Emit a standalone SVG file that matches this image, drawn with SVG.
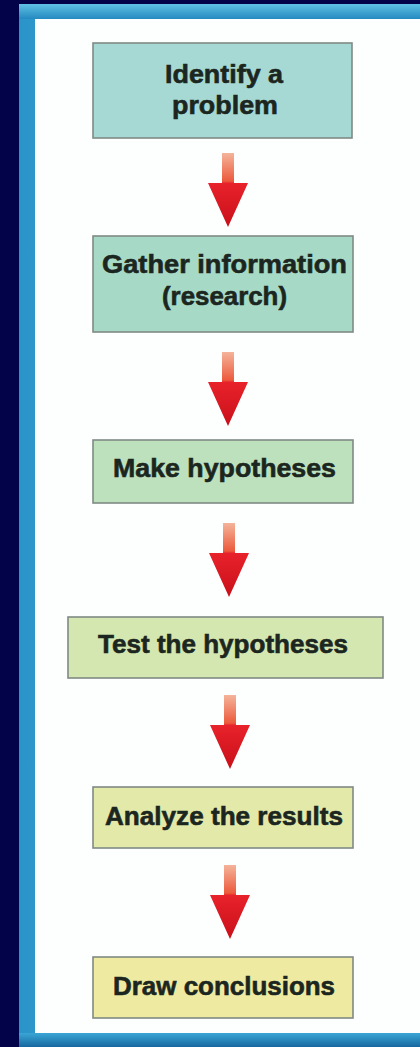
<svg xmlns="http://www.w3.org/2000/svg" width="420" height="1047" viewBox="0 0 420 1047">
<defs>
<linearGradient id="gTop" x1="0" y1="0" x2="0" y2="1"><stop offset="0" stop-color="#5fc2e4"/><stop offset="1" stop-color="#2489c0"/></linearGradient>
<linearGradient id="gLeft" x1="0" y1="0" x2="1" y2="0"><stop offset="0" stop-color="#2a93c8"/><stop offset="0.6" stop-color="#5cbfe2"/><stop offset="1" stop-color="#2f95c8"/></linearGradient>
<linearGradient id="gBot" x1="0" y1="0" x2="0" y2="1"><stop offset="0" stop-color="#3aa6d6"/><stop offset="1" stop-color="#17679f"/></linearGradient>
<linearGradient id="gArrow" x1="0" y1="0" x2="0" y2="1">
<stop offset="0" stop-color="#f4b49a"/>
<stop offset="0.38" stop-color="#ec5a3c"/>
<stop offset="0.41" stop-color="#e8222b"/>
<stop offset="1" stop-color="#c9101a"/>
</linearGradient>
<path id="arrow" d="M-6,0 H6 V30 H20 L0,74 L-20,30 H-6 Z" fill="url(#gArrow)"/>
</defs>
<style>
.box{stroke:#7f8a84;stroke-width:1.6}
.lbl{font-family:"Liberation Sans",Arial,sans-serif;font-weight:bold;font-size:26.5px;fill:#1c2620;stroke:#1c2620;stroke-width:0.6;text-anchor:middle}
</style>
<rect x="0" y="0" width="420" height="1047" fill="#03034a"/>
<g id="frame">
<rect x="19" y="4" width="401" height="1043" fill="url(#gLeft)"/>
<rect x="19" y="4" width="401" height="15" fill="url(#gTop)"/>
<rect x="19" y="1033" width="401" height="14" fill="url(#gBot)"/>
<rect x="35" y="19" width="385" height="1014" fill="#fdfefe"/>
</g>
<g id="connectors">
<use href="#arrow" x="228" y="153"/>
<use href="#arrow" x="228" y="352"/>
<use href="#arrow" x="229" y="523"/>
<use href="#arrow" x="230" y="695"/>
<use href="#arrow" x="230" y="865"/>
</g>
<g id="n1">
<rect class="box" x="93" y="43" width="259" height="95" fill="#a6d9d4"/>
<text class="lbl" x="224" y="83" textLength="118" lengthAdjust="spacingAndGlyphs">Identify a</text>
<text class="lbl" x="225" y="114" textLength="106" lengthAdjust="spacingAndGlyphs">problem</text>
</g>
<g id="n2">
<rect class="box" x="93" y="236" width="260" height="96" fill="#a7dac6"/>
<text class="lbl" x="224.5" y="273" textLength="245" lengthAdjust="spacingAndGlyphs">Gather information</text>
<text class="lbl" x="224.5" y="305" textLength="125" lengthAdjust="spacingAndGlyphs">(research)</text>
</g>
<g id="n3">
<rect class="box" x="93" y="440" width="260" height="63" fill="#bee1bd"/>
<text class="lbl" x="224.5" y="477" textLength="223" lengthAdjust="spacingAndGlyphs">Make hypotheses</text>
</g>
<g id="n4">
<rect class="box" x="68" y="617" width="315" height="61" fill="#d5e7b0"/>
<text class="lbl" x="223" y="653" textLength="250" lengthAdjust="spacingAndGlyphs">Test the hypotheses</text>
</g>
<g id="n5">
<rect class="box" x="93" y="787" width="260" height="61" fill="#e3e9a8"/>
<text class="lbl" x="224" y="825" textLength="238" lengthAdjust="spacingAndGlyphs">Analyze the results</text>
</g>
<g id="n6">
<rect class="box" x="93" y="957" width="260" height="61" fill="#eeeaa1"/>
<text class="lbl" x="224" y="995" textLength="222" lengthAdjust="spacingAndGlyphs">Draw conclusions</text>
</g>
</svg>
